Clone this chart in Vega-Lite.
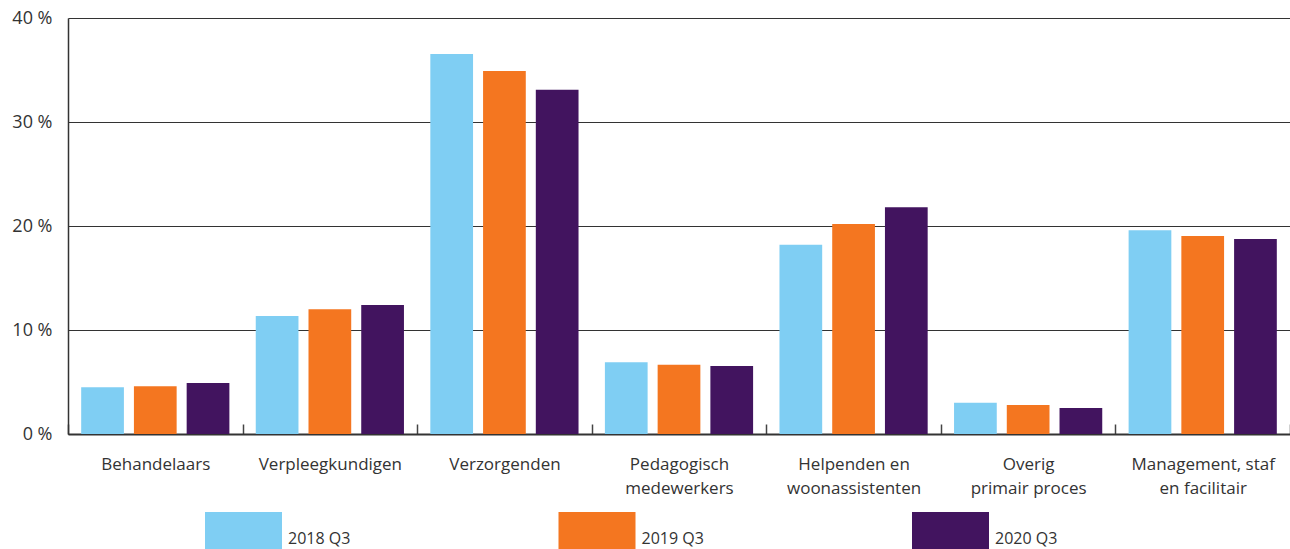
{
  "$schema": "https://vega.github.io/schema/vega-lite/v6.json",
  "width": 1222,
  "height": 416,
  "autosize": {"type": "none"},
  "padding": {"left": 68, "top": 18, "right": 0, "bottom": 115},
  "background": "white",
  "data": {
    "values": [
      {"categorie": "Behandelaars", "periode": "2018 Q3", "aandeel": 4.5},
      {"categorie": "Behandelaars", "periode": "2019 Q3", "aandeel": 4.6},
      {"categorie": "Behandelaars", "periode": "2020 Q3", "aandeel": 4.9},
      {"categorie": "Verpleegkundigen", "periode": "2018 Q3", "aandeel": 11.35},
      {"categorie": "Verpleegkundigen", "periode": "2019 Q3", "aandeel": 12.0},
      {"categorie": "Verpleegkundigen", "periode": "2020 Q3", "aandeel": 12.4},
      {"categorie": "Verzorgenden", "periode": "2018 Q3", "aandeel": 36.55},
      {"categorie": "Verzorgenden", "periode": "2019 Q3", "aandeel": 34.9},
      {"categorie": "Verzorgenden", "periode": "2020 Q3", "aandeel": 33.1},
      {"categorie": "Pedagogisch medewerkers", "periode": "2018 Q3", "aandeel": 6.9},
      {"categorie": "Pedagogisch medewerkers", "periode": "2019 Q3", "aandeel": 6.65},
      {"categorie": "Pedagogisch medewerkers", "periode": "2020 Q3", "aandeel": 6.55},
      {"categorie": "Helpenden en woonassistenten", "periode": "2018 Q3", "aandeel": 18.2},
      {"categorie": "Helpenden en woonassistenten", "periode": "2019 Q3", "aandeel": 20.2},
      {"categorie": "Helpenden en woonassistenten", "periode": "2020 Q3", "aandeel": 21.8},
      {"categorie": "Overig primair proces", "periode": "2018 Q3", "aandeel": 3.0},
      {"categorie": "Overig primair proces", "periode": "2019 Q3", "aandeel": 2.8},
      {"categorie": "Overig primair proces", "periode": "2020 Q3", "aandeel": 2.5},
      {"categorie": "Management, staf en facilitair", "periode": "2018 Q3", "aandeel": 19.6},
      {"categorie": "Management, staf en facilitair", "periode": "2019 Q3", "aandeel": 19.05},
      {"categorie": "Management, staf en facilitair", "periode": "2020 Q3", "aandeel": 18.75}
    ]
  },
  "mark": {"type": "bar"},
  "encoding": {
    "x": {
      "field": "categorie",
      "type": "nominal",
      "sort": null,
      "scale": {"paddingInner": 0, "paddingOuter": 0},
      "axis": {
        "title": null,
        "labelAngle": 0,
        "tickBand": "extent",
        "tickSize": -10,
        "tickColor": "#444",
        "tickWidth": 1.5,
        "domainColor": "#333",
        "domainWidth": 2,
        "labelPadding": 32,
        "labelBaseline": "top",
        "labelLineHeight": 24,
        "labelFont": "Open Sans",
        "labelFontSize": 17,
        "labelColor": "#333",
        "labelLimit": 300,
        "labelExpr": "datum.label == 'Pedagogisch medewerkers' ? ['Pedagogisch', 'medewerkers'] : datum.label == 'Helpenden en woonassistenten' ? ['Helpenden en', 'woonassistenten'] : datum.label == 'Overig primair proces' ? ['Overig', 'primair proces'] : datum.label == 'Management, staf en facilitair' ? ['Management, staf', 'en facilitair'] : datum.label"
      }
    },
    "xOffset": {
      "field": "periode",
      "type": "nominal",
      "scale": {"paddingInner": 0.19, "paddingOuter": 0.25}
    },
    "y": {
      "field": "aandeel",
      "type": "quantitative",
      "scale": {"domain": [0, 40], "nice": false},
      "axis": {
        "title": null,
        "values": [0, 10, 20, 30, 40],
        "ticks": false,
        "grid": true,
        "gridColor": "#333",
        "gridWidth": 1,
        "domainColor": "#333",
        "domainWidth": 1.5,
        "labelPadding": 16,
        "labelFont": "Open Sans",
        "labelFontSize": 18,
        "labelColor": "#333",
        "labelExpr": "datum.value + ' %'"
      }
    },
    "color": {
      "field": "periode",
      "type": "nominal",
      "scale": {"domain": ["2018 Q3", "2019 Q3", "2020 Q3"], "range": ["#7fcef3", "#f47620", "#42145f"]},
      "legend": {
        "title": null,
        "orient": "none",
        "legendX": 137,
        "legendY": 474,
        "direction": "horizontal",
        "padding": 0,
        "symbolType": "M-1,-0.48H1V0.48H-1Z",
        "symbolSize": 5929,
        "symbolStrokeWidth": 0,
        "symbolOpacity": 1,
        "labelOffset": 6,
        "labelBaseline": "top",
        "labelFont": "Open Sans",
        "labelFontSize": 16,
        "labelColor": "#333",
        "columnPadding": 207.5
      }
    }
  },
  "config": {
    "view": {"stroke": null},
    "axis": {"gridColor": "#333"}
  }
}
